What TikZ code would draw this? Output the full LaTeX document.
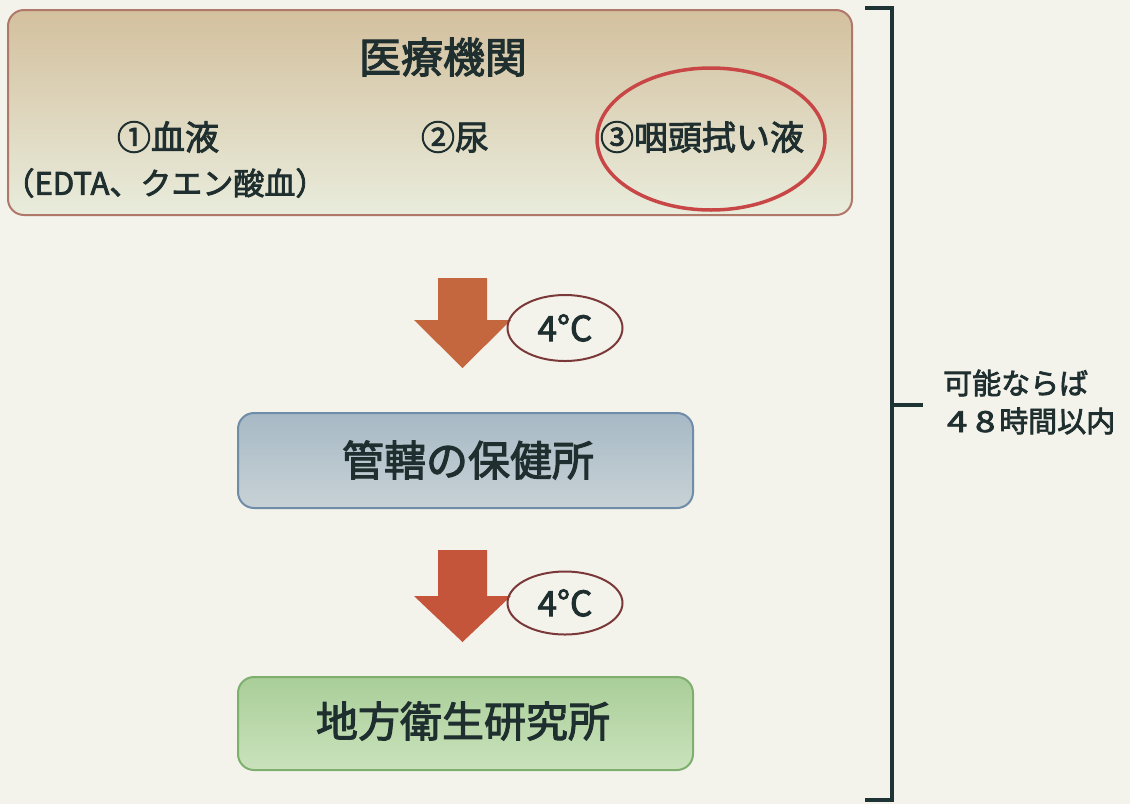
\documentclass[tikz,border=0pt]{standalone}
\usepackage{fontspec}
\setmainfont{Noto Sans CJK JP}[UprightFeatures={FakeBold=2.5}]
\usetikzlibrary{shapes.geometric}
\definecolor{paper}{HTML}{F3F3EC}
\definecolor{txt}{HTML}{1F2E2E}
\definecolor{medborder}{HTML}{B07868}
\definecolor{medtop}{HTML}{D3C09E}
\definecolor{medbot}{HTML}{E9ECDC}
\definecolor{redring}{HTML}{C84646}
\definecolor{tempring}{HTML}{7A3838}
\definecolor{arrowA}{HTML}{C4663E}
\definecolor{arrowB}{HTML}{C4553A}
\definecolor{blueborder}{HTML}{6F8CA8}
\definecolor{bluetop}{HTML}{A7B9C5}
\definecolor{bluebot}{HTML}{C8D2D6}
\definecolor{greenborder}{HTML}{7EAF6E}
\definecolor{greentop}{HTML}{A9CE98}
\definecolor{greenbot}{HTML}{CAE2BC}
\definecolor{brack}{HTML}{1E3434}
\tikzset{
  roundbox/.style={rounded corners=16pt, line width=2pt, inner sep=0pt},
  lbl/.style={text=txt, inner sep=0pt, font=\fontsize{34pt}{38pt}\selectfont},
  bigl/.style={text=txt, inner sep=0pt, font=\fontsize{42pt}{46pt}\selectfont},
  templbl/.style={ellipse, draw=tempring, line width=2pt, text=txt, inner sep=0pt,
    font=\fontsize{35pt}{38pt}\selectfont},
  sidel/.style={text=txt, inner sep=0pt, anchor=west, font=\fontsize{29pt}{32pt}\selectfont}
}
\begin{document}
\begin{tikzpicture}[x=1pt,y=-1pt]
\useasboundingbox (0,0) rectangle (1130,804);
\fill[paper] (0,0) rectangle (1130,804);
% top box
\node[roundbox, draw=medborder, top color=medtop, bottom color=medbot,
  minimum width=844pt, minimum height=205pt] (med) at (430,112.5) {};
\node[bigl] (medt) at (443,57) {医療機関};
\node[lbl] (s1) at (168,137) {①血液};
\node[lbl, font=\fontsize{31pt}{34pt}\selectfont] (s1b) at (165,183) {（EDTA、クエン酸血）};
\node[lbl] (s2) at (455,137) {②尿};
\node[lbl] (s3) at (702,137) {③咽頭拭い液};
\node[ellipse, draw=redring, line width=3.5pt, minimum width=228pt, minimum height=142pt] (ring) at (711,139) {};
% arrow 1
\fill[arrowA] (438,278) -- (487,278) -- (487,320) -- (511,320) -- (462.5,368) -- (414,320) -- (438,320) -- cycle;
\node[templbl, minimum width=115pt, minimum height=66pt] (t1) at (565,328) {4°C};
% middle box
\node[roundbox, draw=blueborder, top color=bluetop, bottom color=bluebot,
  minimum width=455pt, minimum height=95pt] (hc) at (465.5,460.5) {};
\node[bigl] (hct) at (468,460) {管轄の保健所};
% arrow 2
\fill[arrowB] (438,550) -- (487,550) -- (487,596) -- (511,596) -- (462.5,642) -- (414,596) -- (438,596) -- cycle;
\node[templbl, minimum width=115pt, minimum height=63pt] (t2) at (565,603) {4°C};
% bottom box
\node[roundbox, draw=greenborder, top color=greentop, bottom color=greenbot,
  minimum width=455pt, minimum height=93pt] (lab) at (465.5,723.5) {};
\node[bigl] (labt) at (463,721) {地方衛生研究所};
% bracket
\coordinate (bt) at (865,8);
\coordinate (bb) at (865,800);
\coordinate (bm) at (892,405);
\coordinate (btip) at (923,405);
\draw[brack, line width=4pt, line join=miter] (bt) -- (892,8) -- (892,800) -- (bb);
\draw[brack, line width=4pt] (bm) -- (btip);
\node[sidel] (n1) at (943,383) {可能ならば};
\node[sidel] (n2) at (943,421) {\makebox[28pt]{\scalebox{1.25}[1]{4}}\makebox[28pt]{\scalebox{1.25}[1]{8}}時間以内};
\end{tikzpicture}
\end{document}
